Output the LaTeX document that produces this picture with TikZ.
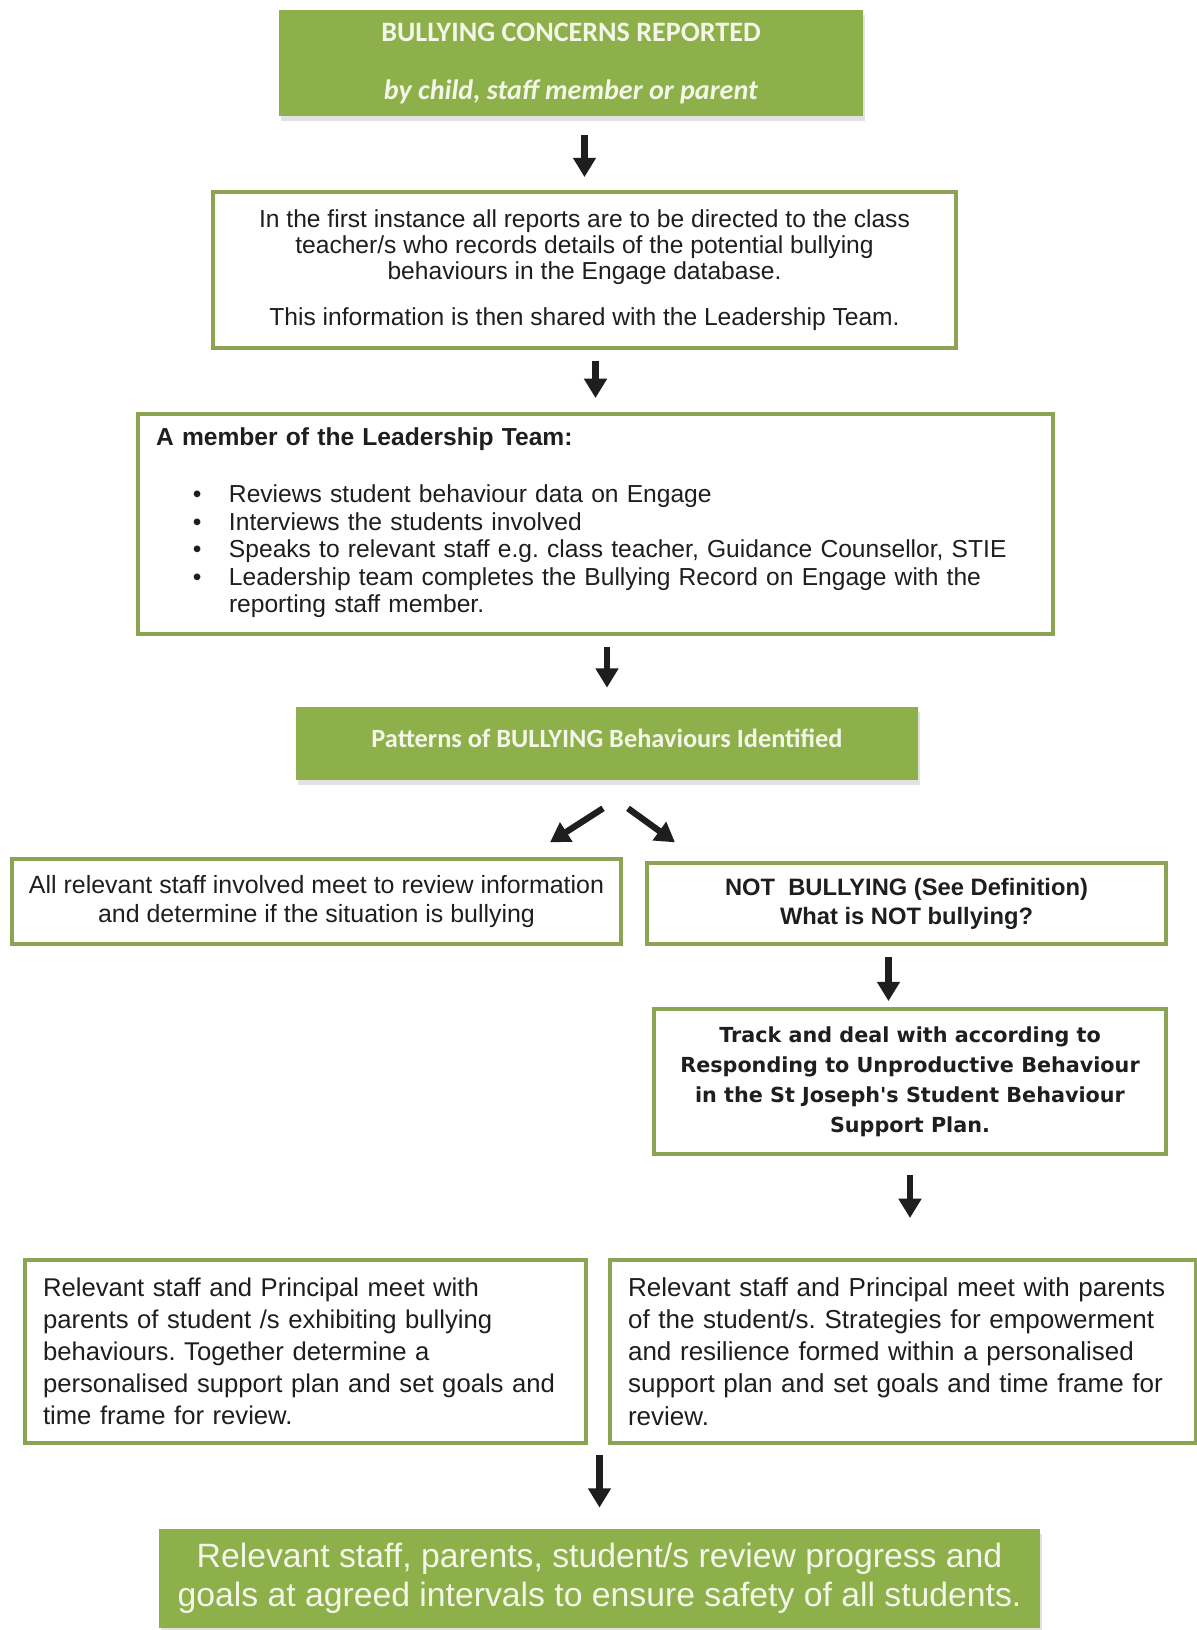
\documentclass[tikz,border=0pt]{standalone}
\usepackage{fontspec}
\setmainfont{Liberation Sans}
\newfontfamily\calibrifont{Carlito}
\newfontfamily\tahomafont{DejaVu Sans}
\usepackage{tikz}
\usetikzlibrary{arrows.meta,calc,shadows}
\definecolor{Leaf}{HTML}{8DB04B}
\definecolor{LeafEdge}{HTML}{8AA453}
\definecolor{Chalk}{HTML}{F3F6E8}
\definecolor{Ink}{HTML}{1E1E1E}
\tikzset{
  flowarrow/.style={-{Triangle[length=11pt,width=12.5pt]},line width=3.6pt,draw=Ink},
  greenbox/.style={rectangle,draw=none,fill=Leaf,text=Chalk,align=center,
    drop shadow={shadow xshift=1pt,shadow yshift=-3pt,fill=black!22}},
  whitebox/.style={rectangle,draw=LeafEdge,line width=2.2pt,fill=white,text=Ink,align=center},
  leftbox/.style={whitebox,align=left,inner xsep=0.36cm},
}
\frenchspacing

\begin{document}
\begin{tikzpicture}[x=0.02cm,y=-0.02cm]
    \fill[white] (0,0) rectangle (1197,1630);
    \useasboundingbox (0,0) rectangle (1197,1630);

    \node[greenbox,minimum width=11.68cm,minimum height=2.12cm,font=\calibrifont\bfseries\fontsize{16}{19}\selectfont] (reported) at (571,63)
      {BULLYING CONCERNS REPORTED\\[14pt]\textit{by child, staff member or parent}};
    \node[whitebox,minimum width=14.86cm,minimum height=3.12cm,font=\fontsize{14}{14.8}\selectfont] (reports) at (584.5,270)
      {In the first instance all reports are to be directed to the class\\
       teacher/s who records details of the potential bullying\\
       behaviours in the Engage database.\\[11pt]
       This information is then shared with the Leadership Team.};
    \node[leftbox,text width=17.58cm,minimum height=4.4cm,font=\fontsize{14}{15.6}\selectfont] (leaders) at (595.5,524)
      {\textbf{A member of the Leadership Team:}\\[18pt]
       \begin{tabular}{@{\hspace{21pt}}p{5pt}@{\hspace{15.5pt}}l@{}}
         \textbullet & Reviews student behaviour data on Engage\\
         \textbullet & Interviews the students involved\\
         \textbullet & Speaks to relevant staff e.g. class teacher, Guidance Counsellor, STIE\\
         \textbullet & Leadership team completes the Bullying Record on Engage with the\\
                     & reporting staff member.
       \end{tabular}};
    \node[greenbox,minimum width=12.44cm,minimum height=1.46cm,font=\calibrifont\bfseries\fontsize{15}{18}\selectfont] (patterns) at (607,743.5)
      {\raisebox{5.7pt}{Patterns of BULLYING Behaviours Identified}};

    \node[whitebox,minimum width=12.18cm,minimum height=1.7cm,font=\fontsize{14.2}{16}\selectfont] (review) at (316.5,901.5)
      {All relevant staff involved meet to review information\\and determine if the situation is bullying};
    \node[whitebox,minimum width=10.38cm,minimum height=1.62cm,font=\bfseries\fontsize{13.5}{16.5}\selectfont] (notbully) at (906.5,903.5)
      {NOT\ \ BULLYING (See Definition)\\What is NOT bullying?};
    \node[whitebox,minimum width=10.24cm,minimum height=2.9cm,font=\tahomafont\bfseries\fontsize{11.8}{17}\selectfont] (track) at (910,1081.5)
      {Track and deal with according to\\
       Responding to Unproductive Behaviour\\
       in the St Joseph's Student Behaviour\\
       Support Plan.};

    \node[leftbox,text width=10.5cm,minimum height=3.66cm,font=\fontsize{14.6}{18.3}\selectfont] (bullyplan) at (305.5,1351.5)
      {Relevant staff and Principal meet with\\
       parents of student /s exhibiting bullying\\
       behaviours. Together determine a\\
       personalised support plan and set goals and\\
       time frame for review.};
    \node[leftbox,text width=11cm,minimum height=3.66cm,font=\fontsize{14.8}{18.3}\selectfont] (victimplan) at (903,1351.5)
      {Relevant staff and Principal meet with parents\\
       of the student/s. Strategies for empowerment\\
       and resilience formed within a personalised\\
       support plan and set goals and time frame for\\
       review.};
    \node[greenbox,minimum width=17.62cm,minimum height=1.98cm,font=\fontsize{19.2}{22.2}\selectfont] (progress) at (599.5,1578.5)
      {Relevant staff, parents, student/s review progress and\\
       goals at agreed intervals to ensure safety of all students.};

    \coordinate (forkL) at ($(patterns.south)+(-4,28)$);
    \coordinate (forkR) at ($(patterns.south)+(21,28)$);
    \coordinate (toreview) at ($(forkL)+(-53,34)$);
    \coordinate (tonotbully) at ($(forkR)+(47,34)$);

    \draw[flowarrow,shorten <=10.8pt,shorten >=7.4pt] (reported.south -| reports.north) -- (reports.north);
    \draw[flowarrow,shorten <=6.3pt,shorten >=8pt] (reports.south -| leaders.north) -- (leaders.north);
    \draw[flowarrow,shorten <=6.3pt,shorten >=10.8pt] (leaders.south -| patterns.north) -- (patterns.north);
    \draw[flowarrow] (forkL) -- (toreview);
    \draw[flowarrow] (forkR) -- (tonotbully);
    \draw[flowarrow,shorten <=6.3pt,shorten >=3.4pt] ([xshift=-0.36cm]notbully.south) -- ([xshift=-0.36cm]notbully.south |- track.north);
    \draw[flowarrow,shorten <=10.8pt,shorten >=22.8pt] (track.south) -- (track.south |- victimplan.north);
    \draw[flowarrow,shorten <=5.7pt,shorten >=12pt] (bullyplan.south -| progress.north) -- (progress.north);
\end{tikzpicture}
\end{document}
